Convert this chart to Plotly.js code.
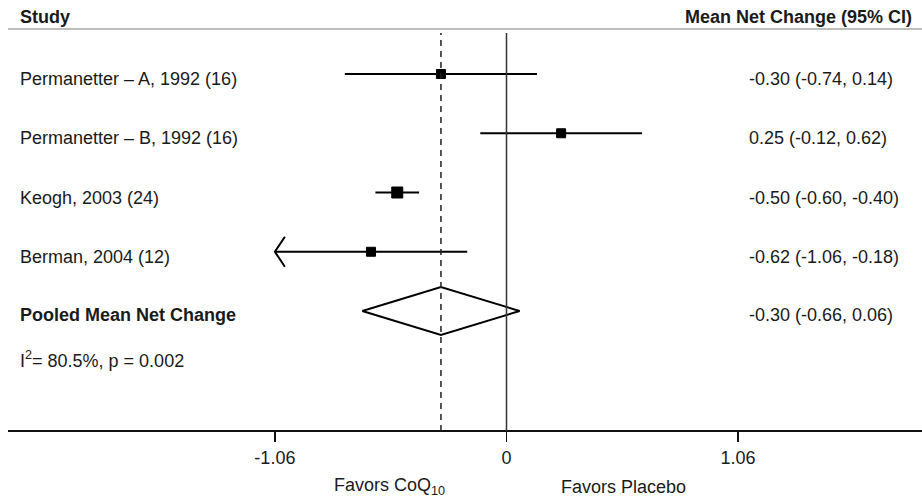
<!DOCTYPE html>
<html>
<head>
<meta charset="utf-8">
<script src="https://cdn.plot.ly/plotly-3.0.1.min.js"></script>
<style>
html,body{margin:0;padding:0;background:#fff;}
#chart{width:922px;height:502px;}
</style>
</head>
<body>
<div id="chart"></div>
<script>
// ---- data ----
var studies = ["Permanetter \u2013 A, 1992 (16)", "Permanetter \u2013 B, 1992 (16)", "Keogh, 2003 (24)", "Berman, 2004 (12)"];
var estimates = [-0.30, 0.25, -0.50, -0.62];
var lowerCI = [-0.74, -0.12, -0.60, -1.06];
var upperCI = [0.14, 0.62, -0.40, -0.18];
var markerSizes = [9, 9, 11, 9];
var pooledLabel = "Pooled Mean Net Change";
var pooledEst = [-0.30];
var pooledLo = [-0.66];
var pooledHi = [0.06];
var heterogeneityI2 = 80.5;
var heterogeneityP = 0.002;
var tickValues = [-1.06, 0, 1.06];
var tickLabels = ["-1.06", "0", "1.06"];
var clipLimit = 1.06;

// ---- geometry helpers (pixel layout) ----
var W = 922, H = 502;
var x0px = 506.5, pxPerUnit = 218.5, plotLeft = 8;
var row0px = 74, rowPx = 59.25;
function py(p){ return (H - p) / H; }   // pixel y -> paper
function pxp(p){ return p / W; }        // pixel x -> paper
var xRange = [(plotLeft - x0px) / pxPerUnit, (W - x0px) / pxPerUnit];
var yRange = [(H - row0px) / rowPx, -row0px / rowPx];

var fam = "Liberation Sans, Arial, Helvetica, sans-serif";
var txtColor = "#1a1a1a";

// CI lines
var ciX = [], ciY = [];
for (var i = 0; i < studies.length; i++) {
  ciX.push(lowerCI[i], upperCI[i], null);
  ciY.push(i, i, null);
}
// arrows for CI reaching the clip limit
var arX = [], arY = [];
var armDx = 10 / pxPerUnit, armDy = 15 / rowPx;
for (var i = 0; i < studies.length; i++) {
  if (lowerCI[i] <= -clipLimit) {
    arX.push(lowerCI[i] + armDx, lowerCI[i], lowerCI[i] + armDx, null);
    arY.push(i - armDy, i, i + armDy, null);
  }
  if (upperCI[i] >= clipLimit) {
    arX.push(upperCI[i] - armDx, upperCI[i], upperCI[i] - armDx, null);
    arY.push(i - armDy, i, i + armDy, null);
  }
}
var pr = studies.length; // pooled row index
var dh = 24 / rowPx;
var diamondX = [pooledLo[0], pooledEst[0], pooledHi[0], pooledEst[0], pooledLo[0]];
var diamondY = [pr, pr - dh, pr, pr + dh, pr];

var traces = [
  {x: ciX, y: ciY, mode: "lines", line: {color: "#000", width: 2}, hoverinfo: "skip", showlegend: false},
  {x: arX, y: arY, mode: "lines", line: {color: "#000", width: 2}, hoverinfo: "skip", showlegend: false},
  {x: estimates, y: studies.map(function(s, i){ return i; }), mode: "markers",
   marker: {symbol: "square", size: markerSizes, color: "#000", opacity: 1, line: {width: 1, color: "#000"}}, showlegend: false},
  {x: diamondX, y: diamondY, mode: "lines", fill: "toself", fillcolor: "#fff",
   line: {color: "#000", width: 2}, showlegend: false}
];

function fmt(v){ return v.toFixed(2); }

var ann = [];
function addText(text, xPaper, yVal, yref, anchor, bold, yshift) {
  ann.push({text: bold ? "<b>" + text + "</b>" : text, x: xPaper, xref: "paper", y: yVal, yref: yref,
    xanchor: anchor, yanchor: "middle", showarrow: false, yshift: yshift || 0,
    font: {family: fam, size: 18, color: txtColor}});
}
addText("Study", pxp(18), py(17), "paper", "left", true);
addText("Mean Net Change (95% CI)", pxp(914), py(17), "paper", "right", true);
for (var i = 0; i < studies.length; i++) {
  addText(studies[i], pxp(18), i, "y", "left", false, -5);
  addText(fmt(estimates[i]) + " (" + fmt(lowerCI[i]) + ", " + fmt(upperCI[i]) + ")", pxp(747), i, "y", "left", false, -5);
}
addText(pooledLabel, pxp(18), pr, "y", "left", true, -4);
addText(fmt(pooledEst[0]) + " (" + fmt(pooledLo[0]) + ", " + fmt(pooledHi[0]) + ")", pxp(747), pr, "y", "left", false, -4);
addText("I<sup>2</sup>= " + heterogeneityI2.toFixed(1) + "%, p = " + heterogeneityP.toFixed(3), pxp(18), py(359), "paper", "left", false);
addText("Favors CoQ<sub>10</sub>", pxp(447), py(486), "paper", "right", false);
addText("Favors Placebo", pxp(559), py(487), "paper", "left", false);

var axisY = py(431), topY = py(33);
var shapes = [
  {type: "line", xref: "paper", yref: "paper", x0: pxp(8), x1: 1, y0: py(29), y1: py(29), line: {color: "#bdbdbd", width: 2}},
  {type: "line", xref: "x", yref: "paper", x0: 0, x1: 0, y0: axisY, y1: topY, line: {color: "#333", width: 1.5}},
  {type: "line", xref: "x", yref: "paper", x0: pooledEst[0], x1: pooledEst[0], y0: axisY, y1: topY, line: {color: "#222", width: 1.5, dash: "6px,5px"}}
];

var layout = {
  width: W, height: H,
  margin: {l: 0, r: 0, t: 0, b: 0, pad: 0},
  paper_bgcolor: "#fff", plot_bgcolor: "#fff",
  showlegend: false,
  xaxis: {domain: [pxp(plotLeft), 1], range: xRange, anchor: "free", position: axisY,
    showline: true, linecolor: "#111", linewidth: 2, showgrid: false, zeroline: false,
    ticks: "outside", ticklen: 10, tickwidth: 1.5, tickcolor: "#111",
    tickvals: tickValues, ticktext: tickLabels,
    tickfont: {family: fam, size: 18, color: txtColor}, fixedrange: true},
  yaxis: {range: yRange, visible: false, showgrid: false, zeroline: false, fixedrange: true},
  shapes: shapes,
  annotations: ann
};

Plotly.newPlot("chart", traces, layout, {displayModeBar: false, staticPlot: true});
</script>
</body>
</html>
